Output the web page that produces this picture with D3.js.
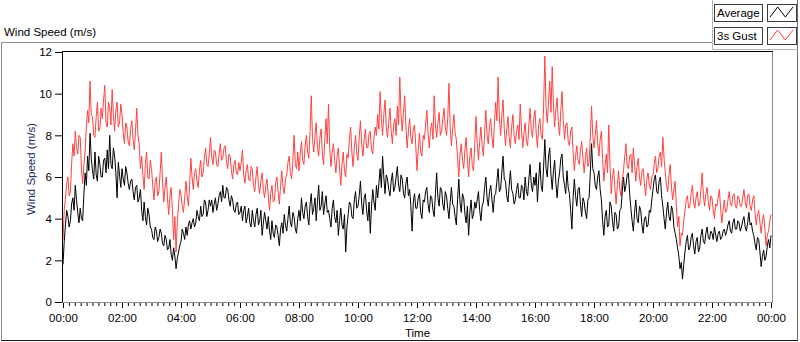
<!DOCTYPE html>
<html>
<head>
<meta charset="utf-8">
<script src="https://cdn.jsdelivr.net/npm/d3@7"></script>
<style>
  body { margin: 0; background: #fff; }
  svg { display: block; font-family: "Liberation Sans", Arial, sans-serif; }
</style>
</head>
<body>
<svg id="chart" width="800" height="342"></svg>
<script>
// 2.5-minute samples, two lines per hour, 00:00 .. 24:00
const averageSpeed = [
  1.8, 2.9, 3.7, 4.4, 4.1, 3.6, 3.9, 4.7, 5.0, 4.4, 5.6, 4.9,
  4.3, 3.8, 4.5, 4.0, 3.9, 5.2, 6.2, 5.6, 7.0, 6.3, 8.1, 6.9,
  6.3, 5.9, 7.2, 6.1, 5.8, 7.0, 6.6, 6.0, 6.0, 6.8, 6.9, 6.2,
  7.3, 6.4, 8.0, 6.6, 6.4, 7.4, 7.0, 6.2, 5.0, 6.7, 6.1, 5.5,
  6.4, 5.9, 5.6, 6.5, 6.2, 5.7, 5.4, 5.8, 5.9, 5.3, 4.9, 5.5,
  5.6, 4.8, 5.0, 5.4, 4.4, 3.9, 4.8, 4.1, 3.7, 4.5, 4.2, 3.6,
  3.5, 3.1, 3.0, 3.6, 3.4, 2.9, 3.1, 3.5, 3.3, 2.8, 2.7, 3.2,
  3.0, 2.5, 2.6, 3.0, 2.3, 2.0, 2.6, 2.2, 1.6, 2.1, 2.4, 2.7,
  2.9, 3.5, 3.3, 3.0, 3.6, 3.2, 3.7, 3.9, 3.5, 3.8, 4.0, 3.6,
  3.8, 4.4, 4.1, 3.9, 4.6, 4.1, 4.2, 4.9, 4.8, 4.1, 4.4, 4.9,
  4.6, 4.9, 4.3, 4.7, 5.0, 4.4, 4.7, 5.1, 5.3, 4.8, 5.6, 5.0,
  5.0, 5.5, 5.4, 4.9, 4.6, 5.1, 4.9, 4.4, 4.3, 4.7, 4.8, 4.2,
  4.3, 4.6, 3.9, 4.4, 4.6, 3.8, 4.1, 4.5, 3.8, 3.6, 4.4, 3.9,
  3.6, 4.2, 4.5, 3.7, 3.9, 4.4, 3.2, 3.8, 4.3, 3.9, 3.5, 4.1,
  3.4, 3.0, 3.9, 3.3, 3.1, 3.7, 3.6, 3.2, 2.7, 3.5, 3.8, 3.3,
  4.2, 3.7, 3.4, 4.0, 4.6, 3.8, 3.6, 4.3, 4.1, 3.5, 3.3, 4.0,
  4.4, 3.9, 5.0, 4.3, 4.0, 4.6, 4.8, 4.1, 3.7, 4.7, 5.2, 4.2,
  4.5, 5.0, 3.9, 4.8, 5.6, 4.4, 4.6, 5.3, 4.2, 4.7, 5.1, 4.3,
  4.4, 4.0, 3.6, 4.5, 4.9, 4.1, 3.8, 4.4, 3.2, 3.9, 4.5, 3.7,
  3.5, 4.2, 2.4, 3.6, 4.2, 4.8, 4.7, 4.1, 4.0, 4.9, 5.3, 4.5,
  4.6, 5.1, 5.8, 4.7, 4.2, 5.0, 5.2, 4.4, 3.9, 4.8, 3.3, 4.6,
  5.4, 4.8, 4.4, 5.6, 5.0, 5.7, 6.4, 5.5, 7.0, 6.0, 5.2, 6.1,
  5.9, 5.4, 5.1, 5.8, 6.2, 5.3, 5.5, 6.0, 6.5, 5.6, 5.3, 6.1,
  5.9, 5.2, 5.0, 5.7, 6.0, 5.1, 5.4, 4.6, 3.4, 4.8, 5.2, 4.5,
  4.5, 5.0, 5.2, 4.3, 4.0, 4.9, 4.8, 5.3, 5.5, 4.7, 4.3, 5.1,
  5.0, 4.4, 4.1, 5.2, 6.2, 5.0, 4.6, 5.5, 5.4, 4.7, 4.4, 5.3,
  5.1, 4.5, 4.0, 4.8, 5.5, 4.7, 4.6, 4.1, 3.7, 4.9, 5.9, 4.8,
  4.3, 5.2, 5.0, 4.2, 3.8, 4.6, 3.2, 4.3, 4.9, 4.0, 4.2, 4.8,
  4.5, 4.9, 5.3, 4.4, 3.9, 4.6, 4.8, 5.5, 6.0, 5.0, 4.6, 5.3,
  5.6, 4.9, 4.3, 5.1, 5.2, 5.8, 6.4, 5.3, 5.4, 6.2, 7.0, 5.9,
  5.8, 5.1, 4.8, 5.6, 6.3, 5.4, 5.2, 4.7, 4.9, 5.4, 5.7, 5.0,
  5.0, 5.6, 5.5, 4.9, 6.0, 5.3, 5.1, 5.9, 6.6, 5.6, 5.3, 6.0,
  5.6, 6.2, 4.8, 5.9, 6.7, 5.6, 5.3, 6.5, 7.8, 6.4, 6.0, 7.0,
  7.4, 6.1, 5.4, 6.3, 6.8, 5.7, 5.0, 5.8, 6.2, 6.9, 7.1, 6.0,
  5.6, 5.2, 6.3, 5.5, 5.2, 4.4, 3.5, 5.0, 5.9, 5.1, 4.6, 5.4,
  5.5, 4.7, 4.1, 5.0, 4.8, 4.3, 4.0, 4.9, 5.0, 6.2, 7.6, 6.4,
  6.2, 5.6, 5.4, 6.0, 6.3, 5.4, 4.9, 3.9, 3.2, 4.1, 4.4, 3.6,
  3.7, 4.8, 4.6, 3.9, 3.4, 4.3, 4.2, 3.5, 3.6, 4.4, 4.5, 5.3,
  6.0, 5.3, 5.6, 6.1, 6.2, 5.2, 4.5, 3.9, 3.4, 4.3, 4.9, 4.0,
  3.8, 4.6, 4.4, 3.7, 3.3, 4.0, 4.1, 3.6, 3.7, 4.4, 4.3, 4.9,
  5.4, 5.9, 6.1, 5.3, 5.2, 5.8, 6.0, 5.1, 4.6, 4.0, 3.5, 4.3,
  4.8, 4.1, 3.9, 4.6, 4.4, 3.6, 3.3, 3.0, 2.6, 2.2, 1.6, 1.9,
  1.1, 1.8, 2.4, 2.9, 3.2, 2.5, 2.6, 3.1, 3.3, 2.7, 2.3, 2.9,
  3.1, 2.4, 2.6, 3.2, 3.5, 2.9, 2.8, 3.3, 3.6, 3.1, 3.0, 3.4,
  3.3, 3.0, 3.6, 3.2, 2.9, 3.3, 3.4, 3.0, 3.1, 3.4, 3.5, 3.2,
  3.4, 3.7, 3.9, 3.4, 3.3, 3.8, 4.0, 3.5, 3.5, 3.9, 3.8, 3.4,
  3.6, 3.9, 4.1, 3.6, 3.4, 3.8, 4.3, 3.7, 3.8, 3.4, 3.2, 2.8,
  2.5, 3.1, 3.0, 2.4, 1.7, 2.2, 2.5, 2.0, 2.2, 2.7, 3.0, 2.6,
  3.2
];

const gustSpeed = [
  3.0, 4.4, 5.0, 5.7, 6.0, 5.1, 5.3, 6.6, 7.6, 7.0, 8.2, 7.4,
  7.1, 8.0, 7.9, 6.4, 5.7, 6.6, 7.2, 8.4, 9.2, 8.6, 10.6, 9.0,
  8.9, 8.0, 7.9, 8.9, 9.6, 8.2, 8.3, 9.3, 8.8, 9.7, 10.4, 8.6,
  8.4, 9.6, 9.3, 8.5, 10.2, 9.0, 8.2, 9.2, 9.6, 8.4, 8.6, 9.5,
  9.0, 8.1, 7.6, 8.6, 8.4, 7.7, 7.5, 8.3, 8.7, 7.8, 7.3, 8.2,
  9.3, 8.0, 7.6, 6.4, 7.0, 6.1, 5.4, 6.6, 7.2, 6.0, 5.9, 6.8,
  6.4, 5.6, 4.9, 5.8, 6.0, 5.1, 5.3, 6.2, 7.2, 5.7, 4.8, 5.5,
  6.0, 5.0, 4.2, 5.1, 5.5, 4.4, 3.0, 4.1, 2.4, 3.9, 4.6, 5.4,
  5.2, 4.6, 4.3, 5.0, 5.8, 5.1, 4.6, 5.6, 6.9, 6.0, 5.4, 6.2,
  6.4, 5.8, 5.5, 6.3, 6.8, 6.0, 6.2, 6.9, 7.4, 6.6, 6.5, 7.1,
  7.9, 7.0, 6.6, 7.3, 7.2, 6.6, 6.5, 7.1, 7.6, 6.8, 6.9, 7.4,
  7.5, 6.7, 6.4, 7.1, 7.0, 6.3, 5.9, 6.6, 6.8, 6.2, 6.1, 6.7,
  6.3, 6.7, 7.3, 6.1, 5.7, 6.3, 6.6, 5.9, 5.8, 6.5, 6.4, 5.6,
  5.3, 6.0, 6.5, 5.6, 5.2, 5.8, 6.2, 5.4, 5.0, 5.6, 5.9, 5.1,
  4.4, 5.2, 5.6, 4.8, 4.9, 5.7, 6.0, 5.3, 4.7, 5.6, 6.3, 5.5,
  5.2, 5.9, 6.1, 6.7, 7.0, 6.2, 5.9, 6.8, 8.0, 6.6, 6.4, 7.2,
  6.3, 7.1, 7.7, 6.8, 6.6, 7.5, 8.0, 7.2, 6.9, 8.2, 9.9, 7.8,
  7.2, 8.0, 8.6, 7.4, 7.0, 7.9, 8.3, 7.1, 6.6, 7.8, 8.8, 7.6,
  9.5, 7.4, 6.5, 7.2, 7.6, 6.8, 6.2, 7.0, 7.4, 6.4, 5.6, 6.6,
  7.2, 6.3, 6.0, 7.1, 6.9, 7.8, 8.4, 7.2, 6.5, 7.4, 8.0, 7.1,
  6.8, 7.9, 8.7, 7.6, 7.0, 7.8, 8.3, 7.4, 7.4, 8.1, 8.2, 7.3,
  7.1, 7.9, 8.4, 8.0, 9.0, 8.3, 10.1, 8.8, 8.0, 9.0, 9.7, 8.4,
  7.9, 8.6, 9.3, 8.2, 7.6, 8.5, 8.8, 8.0, 9.4, 8.5, 10.8, 9.0,
  8.2, 9.1, 9.9, 8.4, 7.4, 8.2, 8.8, 7.9, 7.6, 8.3, 8.5, 7.5,
  6.3, 7.3, 8.1, 7.2, 7.0, 8.0, 7.8, 8.5, 9.2, 8.1, 7.4, 8.3,
  8.6, 7.8, 9.9, 8.5, 7.9, 8.6, 9.1, 8.0, 8.2, 8.8, 9.3, 8.4,
  8.0, 8.8, 10.5, 8.4, 7.5, 8.3, 9.0, 8.1, 7.8, 6.9, 6.0, 7.1,
  7.6, 6.8, 6.4, 7.3, 7.9, 6.8, 6.0, 7.0, 7.4, 6.5, 6.3, 7.6,
  8.9, 7.6, 6.8, 7.7, 8.4, 7.5, 7.0, 8.1, 9.2, 8.0, 7.6, 8.5,
  8.8, 7.9, 7.4, 8.6, 9.6, 8.7, 10.8, 8.9, 8.0, 8.9, 9.7, 8.3,
  7.5, 8.3, 8.9, 7.9, 7.4, 8.4, 9.0, 8.0, 7.6, 8.2, 8.5, 7.8,
  9.5, 8.3, 7.4, 8.1, 8.6, 7.7, 7.5, 8.5, 9.3, 8.2, 7.9, 8.8,
  9.2, 8.1, 7.4, 8.5, 8.8, 8.0, 7.8, 9.4, 11.8, 9.3, 8.6, 9.6,
  10.6, 9.1, 11.3, 9.4, 8.4, 9.3, 9.8, 8.6, 8.0, 9.2, 10.1, 8.7,
  7.8, 8.5, 8.6, 7.7, 7.5, 8.2, 8.4, 7.2, 6.3, 7.0, 7.5, 6.8,
  6.6, 7.3, 7.7, 6.9, 6.2, 6.9, 7.4, 6.5, 6.7, 7.9, 9.4, 8.0,
  7.4, 8.0, 8.7, 7.6, 7.0, 7.8, 8.2, 6.9, 5.8, 6.5, 7.1, 6.2,
  8.5, 6.6, 5.2, 6.0, 6.4, 5.5, 4.7, 5.6, 6.3, 5.4, 5.1, 5.9,
  6.3, 7.0, 7.6, 6.5, 6.4, 7.0, 7.1, 6.2, 7.4, 6.6, 5.8, 6.5,
  6.9, 6.0, 5.6, 6.3, 6.4, 5.7, 5.1, 5.9, 6.2, 5.6, 5.4, 6.0,
  6.1, 6.6, 7.0, 6.2, 6.4, 7.0, 7.2, 6.5, 7.9, 6.9, 6.2, 5.6,
  5.3, 6.1, 6.6, 5.5, 4.9, 5.4, 5.8, 4.6, 3.6, 4.1, 2.7, 3.3,
  3.2, 3.9, 4.4, 4.9, 5.1, 4.5, 4.6, 5.2, 5.6, 4.8, 4.5, 5.0,
  5.3, 4.6, 4.7, 5.4, 6.2, 5.1, 4.6, 5.2, 5.5, 4.8, 4.4, 5.1,
  5.0, 4.4, 4.0, 4.7, 4.6, 5.0, 5.4, 4.5, 3.8, 4.4, 4.9, 4.3,
  4.4, 4.9, 5.3, 4.7, 4.6, 5.1, 5.2, 4.6, 4.5, 5.1, 5.0, 4.6,
  4.6, 5.0, 5.4, 4.8, 4.5, 5.1, 5.2, 4.6, 4.4, 4.9, 5.1, 4.3,
  3.7, 4.2, 4.4, 3.8, 3.3, 3.9, 4.2, 3.5, 2.7, 3.2, 3.4, 3.9,
  4.2
];

const sampleMinutes = 2.5;
const yTicks = [0, 2, 4, 6, 8, 10, 12];
const seriesNames = ['Average', '3s Gust'];
const seriesColors = ['#000000', '#ff4242'];

const dayStart = Date.UTC(2000, 0, 1);
const dayEnd = Date.UTC(2000, 0, 2);
const timeAt = i => new Date(dayStart + i * sampleMinutes * 60000);

const svg = d3.select('#chart');
const plot = { left: 63, top: 52, right: 772, bottom: 302 };

const x = d3.scaleUtc().domain([dayStart, dayEnd]).range([plot.left, plot.right - 1]);
const y = d3.scaleLinear().domain([0, 12]).range([plot.bottom, plot.top]);

// panel frame
svg.append('path')
  .attr('d', 'M1.5,340 L1.5,42.5 L712,42.5')
  .attr('fill', 'none').attr('stroke', '#8c8c8c');
svg.append('line').attr('x1', 797.5).attr('x2', 797.5).attr('y1', 0).attr('y2', 340)
  .attr('stroke', '#6e6e6e');
svg.append('line').attr('x1', 1).attr('x2', 798).attr('y1', 340.5).attr('y2', 340.5)
  .attr('stroke', '#1a1a1a');

svg.append('text')
  .attr('x', 4).attr('y', 36)
  .attr('font-size', 11.5)
  .text('Wind Speed (m/s)');

// plot frame: dark top/left, grey bottom/right
svg.append('path')
  .attr('d', `M${plot.right + 0.5},${plot.top} L${plot.right + 0.5},${plot.bottom + 0.5} L${plot.left},${plot.bottom + 0.5}`)
  .attr('fill', 'none').attr('stroke', '#8c8c8c');
svg.append('path')
  .attr('d', `M${plot.left - 0.5},${plot.bottom + 0.5} L${plot.left - 0.5},${plot.top - 0.5} L${plot.right + 1},${plot.top - 0.5}`)
  .attr('fill', 'none').attr('stroke', '#000');

// axes
const yAxis = svg.append('g')
  .attr('transform', `translate(${plot.left - 1},0)`)
  .call(d3.axisLeft(y).tickValues(yTicks).tickSize(7).tickPadding(3));
yAxis.select('.domain').remove();

const xMinor = svg.append('g')
  .attr('transform', `translate(0,${plot.bottom + 1})`)
  .call(d3.axisBottom(x).ticks(d3.utcMinute.every(12)).tickSize(3).tickFormat(''));
xMinor.select('.domain').remove();

const xAxis = svg.append('g')
  .attr('transform', `translate(0,${plot.bottom + 1})`)
  .call(d3.axisBottom(x).ticks(d3.utcHour.every(2)).tickSize(5).tickPadding(6)
    .tickFormat(d3.utcFormat('%H:%M')));
xAxis.select('.domain').remove();

svg.selectAll('.tick text').attr('font-size', 11.5).attr('font-family', '"Liberation Sans", Arial, sans-serif').attr('fill', '#000');
svg.selectAll('.tick line').attr('stroke', '#000');

svg.append('text')
  .attr('x', (plot.left + plot.right) / 2).attr('y', 337)
  .attr('text-anchor', 'middle').attr('font-size', 11.5)
  .text('Time');

svg.append('text')
  .attr('transform', `translate(35,${(plot.top + plot.bottom) / 2 - 8}) rotate(-90)`)
  .attr('text-anchor', 'middle').attr('font-size', 11.5).attr('fill', '#1c2d5a')
  .text('Wind Speed (m/s)');

// series
const line = d3.line()
  .x((d, i) => x(timeAt(i)))
  .y(d => y(d));

svg.append('clipPath').attr('id', 'clip')
  .append('rect').attr('x', plot.left).attr('y', plot.top).attr('width', plot.right - plot.left).attr('height', plot.bottom - plot.top);

const series = [averageSpeed, gustSpeed];
// gust drawn first so the average sits on top
[1, 0].forEach(k => {
  svg.append('path')
    .datum(series[k])
    .attr('clip-path', 'url(#clip)')
    .attr('fill', 'none')
    .attr('stroke', seriesColors[k])
    .attr('stroke-width', 1)
    .attr('d', line);
});

// legend
const legend = svg.append('g');
legend.append('path')
  .attr('d', 'M712.5,0 L712.5,49.5 L798,49.5')
  .attr('fill', 'none').attr('stroke', '#b4b4b4');

const iconX = d3.scaleLinear().domain([0, 3]).range([770, 793]);
const iconY = d3.scaleLinear().domain([0, 1]).range([17, 7]);
const zig = [0, 1, 0, 1];

seriesNames.forEach((name, i) => {
  const top = 4 + i * 23;
  legend.append('rect')
    .attr('x', 714.5).attr('y', top + 0.5).attr('width', 48).attr('height', 17)
    .attr('fill', '#fff').attr('stroke', '#3c3c3c');
  legend.append('text')
    .attr('x', 717).attr('y', top + 13)
    .attr('font-size', 11.5)
    .text(name);
  legend.append('rect')
    .attr('x', 767.5).attr('y', top + 0.5).attr('width', 29).attr('height', 17)
    .attr('fill', '#fff').attr('stroke', '#3c3c3c');
  legend.append('path')
    .attr('transform', `translate(0,${top - 4})`)
    .attr('d', d3.line().x((d, j) => iconX(j)).y(d => iconY(d))(zig))
    .attr('fill', 'none').attr('stroke', seriesColors[i]);
});
</script>
</body>
</html>
